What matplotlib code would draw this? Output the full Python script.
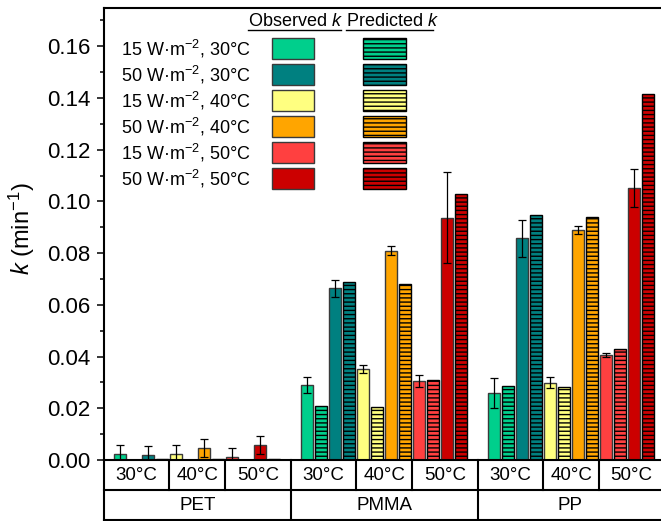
import numpy as np
import matplotlib
matplotlib.use('Agg')
import matplotlib.pyplot as plt
import matplotlib.transforms as mtransforms
from matplotlib.patches import Rectangle

plt.rcParams['font.family'] = ['Liberation Sans', 'DejaVu Sans']
plt.rcParams['mathtext.fontset'] = 'custom'
plt.rcParams['mathtext.rm'] = 'Liberation Sans'
plt.rcParams['mathtext.it'] = 'Liberation Sans:italic'
plt.rcParams['hatch.linewidth'] = 1.0

#data, conditions in order (15,30) (50,30) (15,40) (50,40) (15,50) (50,50)
materials = ['PET', 'PMMA', 'PP']
temps = ['30°C', '40°C', '50°C']
cond_labels = ['15 W·m$^{-2}$, 30°C', '50 W·m$^{-2}$, 30°C', '15 W·m$^{-2}$, 40°C',
               '50 W·m$^{-2}$, 40°C', '15 W·m$^{-2}$, 50°C', '50 W·m$^{-2}$, 50°C']
colors = ['#00CF8C', '#008080', '#FFFF80', '#FFA500', '#FF4040', '#CC0000']

pet_obs = [0.0024, 0.0019, 0.0022, 0.0045, 0.0010, 0.0057]
pet_err = [0.0033, 0.0034, 0.0035, 0.0035, 0.0035, 0.0035]
pet_pred = [0.0, 0.0003, 0.0, 0.0003, 0.0, 0.0003]

pmma_obs = [0.0290, 0.0664, 0.0352, 0.0810, 0.0305, 0.0937]
pmma_err = [0.0030, 0.0032, 0.0014, 0.0016, 0.0022, 0.0176]
pmma_pred = [0.0208, 0.0687, 0.0206, 0.0681, 0.0310, 0.1028]

pp_obs = [0.0258, 0.0857, 0.0299, 0.0889, 0.0406, 0.1052]
pp_err = [0.0058, 0.0073, 0.0022, 0.0015, 0.0007, 0.0072]
pp_pred = [0.0286, 0.0946, 0.0283, 0.0940, 0.0428, 0.1417]

obs_all = [pet_obs, pmma_obs, pp_obs]
err_all = [pet_err, pmma_err, pp_err]
pred_all = [pet_pred, pmma_pred, pp_pred]

fig = plt.figure(figsize=(6.61, 5.21), dpi=100)
W, H = 661, 521
L, R, T, B = 104, 663, 7.5, 460  # axes box in pixels
ax = fig.add_axes([L / W, (H - B) / H, (R - L) / W, (B - T) / H])

gstep = 13.36  # spacing between material groups, in bar steps
bw = 0.86
for g in range(3):
    for c in range(6):
        j = (c // 2) * 4 + (c % 2) * 2
        x = g * gstep + j
        ax.bar(x, obs_all[g][c], width=bw, color=colors[c], edgecolor='#3a3a3a', linewidth=1, zorder=2)
        ax.errorbar(x, obs_all[g][c], yerr=err_all[g][c], fmt='none', ecolor='black',
                    elinewidth=0.9, capsize=3, capthick=0.9, zorder=3)
        ax.bar(x + 1, pred_all[g][c], width=bw, color=colors[c], edgecolor='black', linewidth=1,
               hatch='----', zorder=2)

xl = -1.16
xr = xl + (R - L) / 14
ax.set_xlim(xl, xr)
ax.set_ylim(0, 0.175)
ax.set_xticks([])
ax.set_yticks(np.arange(0, 0.161, 0.02))
ax.set_yticks(np.arange(0, 0.175, 0.01), minor=True)
ax.yaxis.set_major_formatter(matplotlib.ticker.FormatStrFormatter('%.2f'))
ax.tick_params(axis='y', which='major', direction='out', length=5, width=1.1, labelsize=16, pad=5)
ax.tick_params(axis='y', which='minor', direction='out', length=3, width=1.1)
for s in ax.spines.values():
    s.set_linewidth(1.5)
ax.set_ylabel('$k$ (min$^{-1}$)', fontsize=17)
ax.yaxis.set_label_coords(-0.12, 0.51)

#category table below the axis
trans = mtransforms.blended_transform_factory(ax.transData, ax.transAxes)
y1 = -30 / (B - T)
y2 = -60 / (B - T)
lk = dict(color='black', linewidth=1.5, clip_on=False, transform=ax.transAxes)
ax.plot([0, 1.01], [y1, y1], **lk)
ax.plot([0, 1.01], [y2, y2], **lk)
ax.plot([0, 0], [0, y2], **lk)
ax.plot([1, 1], [0, y2], **lk)
for g in range(3):
    base = g * gstep
    left = xl if g == 0 else base - 0.5 - (gstep - 12) / 2
    right = xr if g == 2 else base + 11.5 + (gstep - 12) / 2
    cuts = [left, base + 3.5, base + 7.5, right]
    for k in range(3):
        ax.text((cuts[k] + cuts[k + 1]) / 2, y1 / 2, temps[k], transform=trans,
                ha='center', va='center', fontsize=13.5)
    for cx in cuts[1:3]:
        ax.plot([cx, cx], [0, y1], color='black', linewidth=1.5, clip_on=False, transform=trans)
    if g < 2:
        ax.plot([right, right], [0, y2], color='black', linewidth=1.5, clip_on=False, transform=trans)
    ax.text((left + right) / 2, (y1 + y2) / 2, materials[g], transform=trans,
            ha='center', va='center', fontsize=13.5)

#hand made legend, positions in pixels
def px(xp, yp):
    return (xp - L) / (R - L), (B - yp) / (B - T)

for i in range(6):
    yc = 48.5 + 26 * i
    tx, ty = px(121, yc)
    ax.text(tx, ty, cond_labels[i], transform=ax.transAxes, ha='left', va='center', fontsize=13)
    x0, y0 = px(272, yc + 10.5)
    ax.add_patch(Rectangle((x0, y0), 42 / (R - L), 21 / (B - T), transform=ax.transAxes,
                           facecolor=colors[i], edgecolor='#3a3a3a', linewidth=1))
    x0, y0 = px(363, yc + 10.5)
    ax.add_patch(Rectangle((x0, y0), 43 / (R - L), 21 / (B - T), transform=ax.transAxes,
                           facecolor=colors[i], edgecolor='black', linewidth=1, hatch='----'))

hx, hy = px(248, 26)
ax.text(hx, hy, 'Observed $k$', transform=ax.transAxes, ha='left', va='baseline', fontsize=13)
hx, hy = px(346, 26)
ax.text(hx, hy, 'Predicted $k$', transform=ax.transAxes, ha='left', va='baseline', fontsize=13)
for a, b in [(248, 341), (346, 433)]:
    xa, yu = px(a, 30)
    xb, _ = px(b, 30)
    ax.plot([xa, xb], [yu, yu], color='black', linewidth=1, transform=ax.transAxes)

fig.savefig('out.png', dpi=100)
